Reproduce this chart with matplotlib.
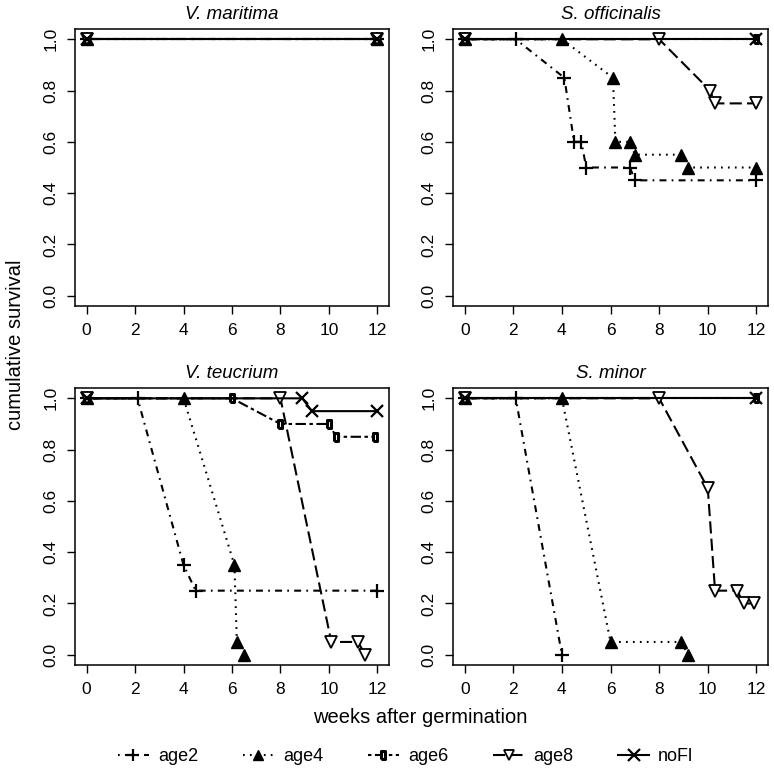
import matplotlib
matplotlib.use("Agg")
import matplotlib.pyplot as plt
from matplotlib.lines import Line2D

plt.rcParams["font.family"] = ["Liberation Sans", "DejaVu Sans"]
plt.rcParams["lines.scale_dashes"] = False

GROUPS = ["age2", "age4", "age6", "age8", "noFl"]
SPECIES = ["V. maritima", "S. officinalis", "V. teucrium", "S. minor"]
XTICKS = [0, 2, 4, 6, 8, 10, 12]
YTICKS = [0.0, 0.2, 0.4, 0.6, 0.8, 1.0]

# V. maritima: no deaths in any group
vmar_x = [0, 12]
vmar_y = [1.0, 1.0]

# S. officinalis
soff_age2_x = [0, 2.1, 4.1, 4.5, 4.8, 5.0, 6.8, 7.0, 12]
soff_age2_y = [1.0, 1.0, 0.85, 0.6, 0.6, 0.5, 0.5, 0.45, 0.45]
soff_age4_x = [0, 4.0, 6.1, 6.2, 6.8, 7.0, 8.9, 9.2, 12]
soff_age4_y = [1.0, 1.0, 0.85, 0.6, 0.6, 0.55, 0.55, 0.5, 0.5]
soff_age6_x = [0, 12]
soff_age6_y = [1.0, 1.0]
soff_age8_x = [0, 8.0, 10.1, 10.3, 12]
soff_age8_y = [1.0, 1.0, 0.8, 0.75, 0.75]
soff_nofl_x = [0, 12]
soff_nofl_y = [1.0, 1.0]

# V. teucrium
vteu_age2_x = [0, 2.1, 4.0, 4.5, 12]
vteu_age2_y = [1.0, 1.0, 0.35, 0.25, 0.25]
vteu_age4_x = [0, 4.0, 6.1, 6.2, 6.5]
vteu_age4_y = [1.0, 1.0, 0.35, 0.05, 0.0]
vteu_age6_x = [0, 6.0, 8.0, 10.0, 10.3, 11.9]
vteu_age6_y = [1.0, 1.0, 0.9, 0.9, 0.85, 0.85]
vteu_age8_x = [0, 8.0, 10.1, 11.2, 11.5]
vteu_age8_y = [1.0, 1.0, 0.05, 0.05, 0.0]
vteu_nofl_x = [0, 8.9, 9.3, 12]
vteu_nofl_y = [1.0, 1.0, 0.95, 0.95]

# S. minor
smin_age2_x = [0, 2.1, 4.0]
smin_age2_y = [1.0, 1.0, 0.0]
smin_age4_x = [0, 4.0, 6.0, 8.9, 9.2]
smin_age4_y = [1.0, 1.0, 0.05, 0.05, 0.0]
smin_age6_x = [0, 12]
smin_age6_y = [1.0, 1.0]
smin_age8_x = [0, 8.0, 10.0, 10.3, 11.2, 11.5, 11.9]
smin_age8_y = [1.0, 1.0, 0.65, 0.25, 0.25, 0.2, 0.2]
smin_nofl_x = [0, 12]
smin_nofl_y = [1.0, 1.0]

# R-like line types: dotdash, dotted, twodash, longdash, solid
u = 1.25
STYLE = {
    "age2": dict(dashes=(1 * u, 3 * u, 4 * u, 3 * u), marker="+", ms=10, mfc="black", mew=1.6),
    "age4": dict(dashes=(1 * u, 3 * u), marker="^", ms=8, mfc="black", mew=1.0),
    "age6": dict(dashes=(2 * u, 2 * u, 6 * u, 2 * u),
                 marker=[(-1, -2), (1, -2), (1, 2), (-1, 2), (-1, -2)], ms=6, mfc="white", mew=2.2),
    "age8": dict(dashes=(7 * u, 3 * u), marker="v", ms=8.5, mfc="white", mew=1.3),
    "noFl": dict(dashes=None, marker="x", ms=9, mfc="black", mew=1.6),
}


def draw(ax, x, y, group):
    st = STYLE[group]
    line, = ax.plot(x, y, color="black", lw=1.5, marker=st["marker"], ms=st["ms"],
                    mfc=st["mfc"], mec="black", mew=st["mew"], clip_on=False)
    if st["dashes"] is not None:
        line.set_dashes(st["dashes"])
    return line


fig = plt.figure(figsize=(7.74, 7.78), dpi=100)
positions = [
    (0.0969, 0.6067, 0.4057, 0.356),
    (0.5853, 0.6067, 0.4070, 0.356),
    (0.0969, 0.1452, 0.4057, 0.356),
    (0.5853, 0.1452, 0.4070, 0.356),
]
panel_data = [
    [(vmar_x, vmar_y)] * 5,
    [(soff_age2_x, soff_age2_y), (soff_age4_x, soff_age4_y), (soff_age6_x, soff_age6_y),
     (soff_age8_x, soff_age8_y), (soff_nofl_x, soff_nofl_y)],
    [(vteu_age2_x, vteu_age2_y), (vteu_age4_x, vteu_age4_y), (vteu_age6_x, vteu_age6_y),
     (vteu_age8_x, vteu_age8_y), (vteu_nofl_x, vteu_nofl_y)],
    [(smin_age2_x, smin_age2_y), (smin_age4_x, smin_age4_y), (smin_age6_x, smin_age6_y),
     (smin_age8_x, smin_age8_y), (smin_nofl_x, smin_nofl_y)],
]

for pos, title, series in zip(positions, SPECIES, panel_data):
    ax = fig.add_axes(pos)
    for (x, y), g in zip(series, GROUPS):
        draw(ax, x, y, g)
    ax.set_xlim(-0.48, 12.48)
    ax.set_ylim(-0.04, 1.04)
    ax.set_xticks(XTICKS)
    ax.set_yticks(YTICKS)
    ax.set_yticklabels([f"{v:.1f}" for v in YTICKS])
    ax.tick_params(direction="out", length=6, width=1.0, labelsize=12.5, pad=6, color="black")
    ax.tick_params(axis="y", labelrotation=90)
    for lab in ax.get_yticklabels():
        lab.set_va("center")
    for sp in ax.spines.values():
        sp.set_linewidth(1.1)
    ax.set_title(title, fontstyle="italic", fontsize=13.5, pad=7)

fig.text(0.02, 0.557, "cumulative survival", rotation=90, ha="center", va="center", fontsize=14.5)
fig.text(0.543, 0.078, "weeks after germination", ha="center", va="center", fontsize=14.5)

handles = []
for g in GROUPS:
    st = STYLE[g]
    h = Line2D([], [], color="black", lw=1.5, marker=st["marker"], ms=st["ms"],
               mfc=st["mfc"], mec="black", mew=st["mew"])
    if st["dashes"] is not None:
        h.set_dashes(st["dashes"])
    handles.append(h)

fig.legend(handles, GROUPS, loc="center", bbox_to_anchor=(0.524, 0.027), ncol=5,
           frameon=False, fontsize=13, handlelength=1.7, handletextpad=0.5,
           columnspacing=2.5, markerscale=0.9)

fig.savefig("out.png", dpi=100)
